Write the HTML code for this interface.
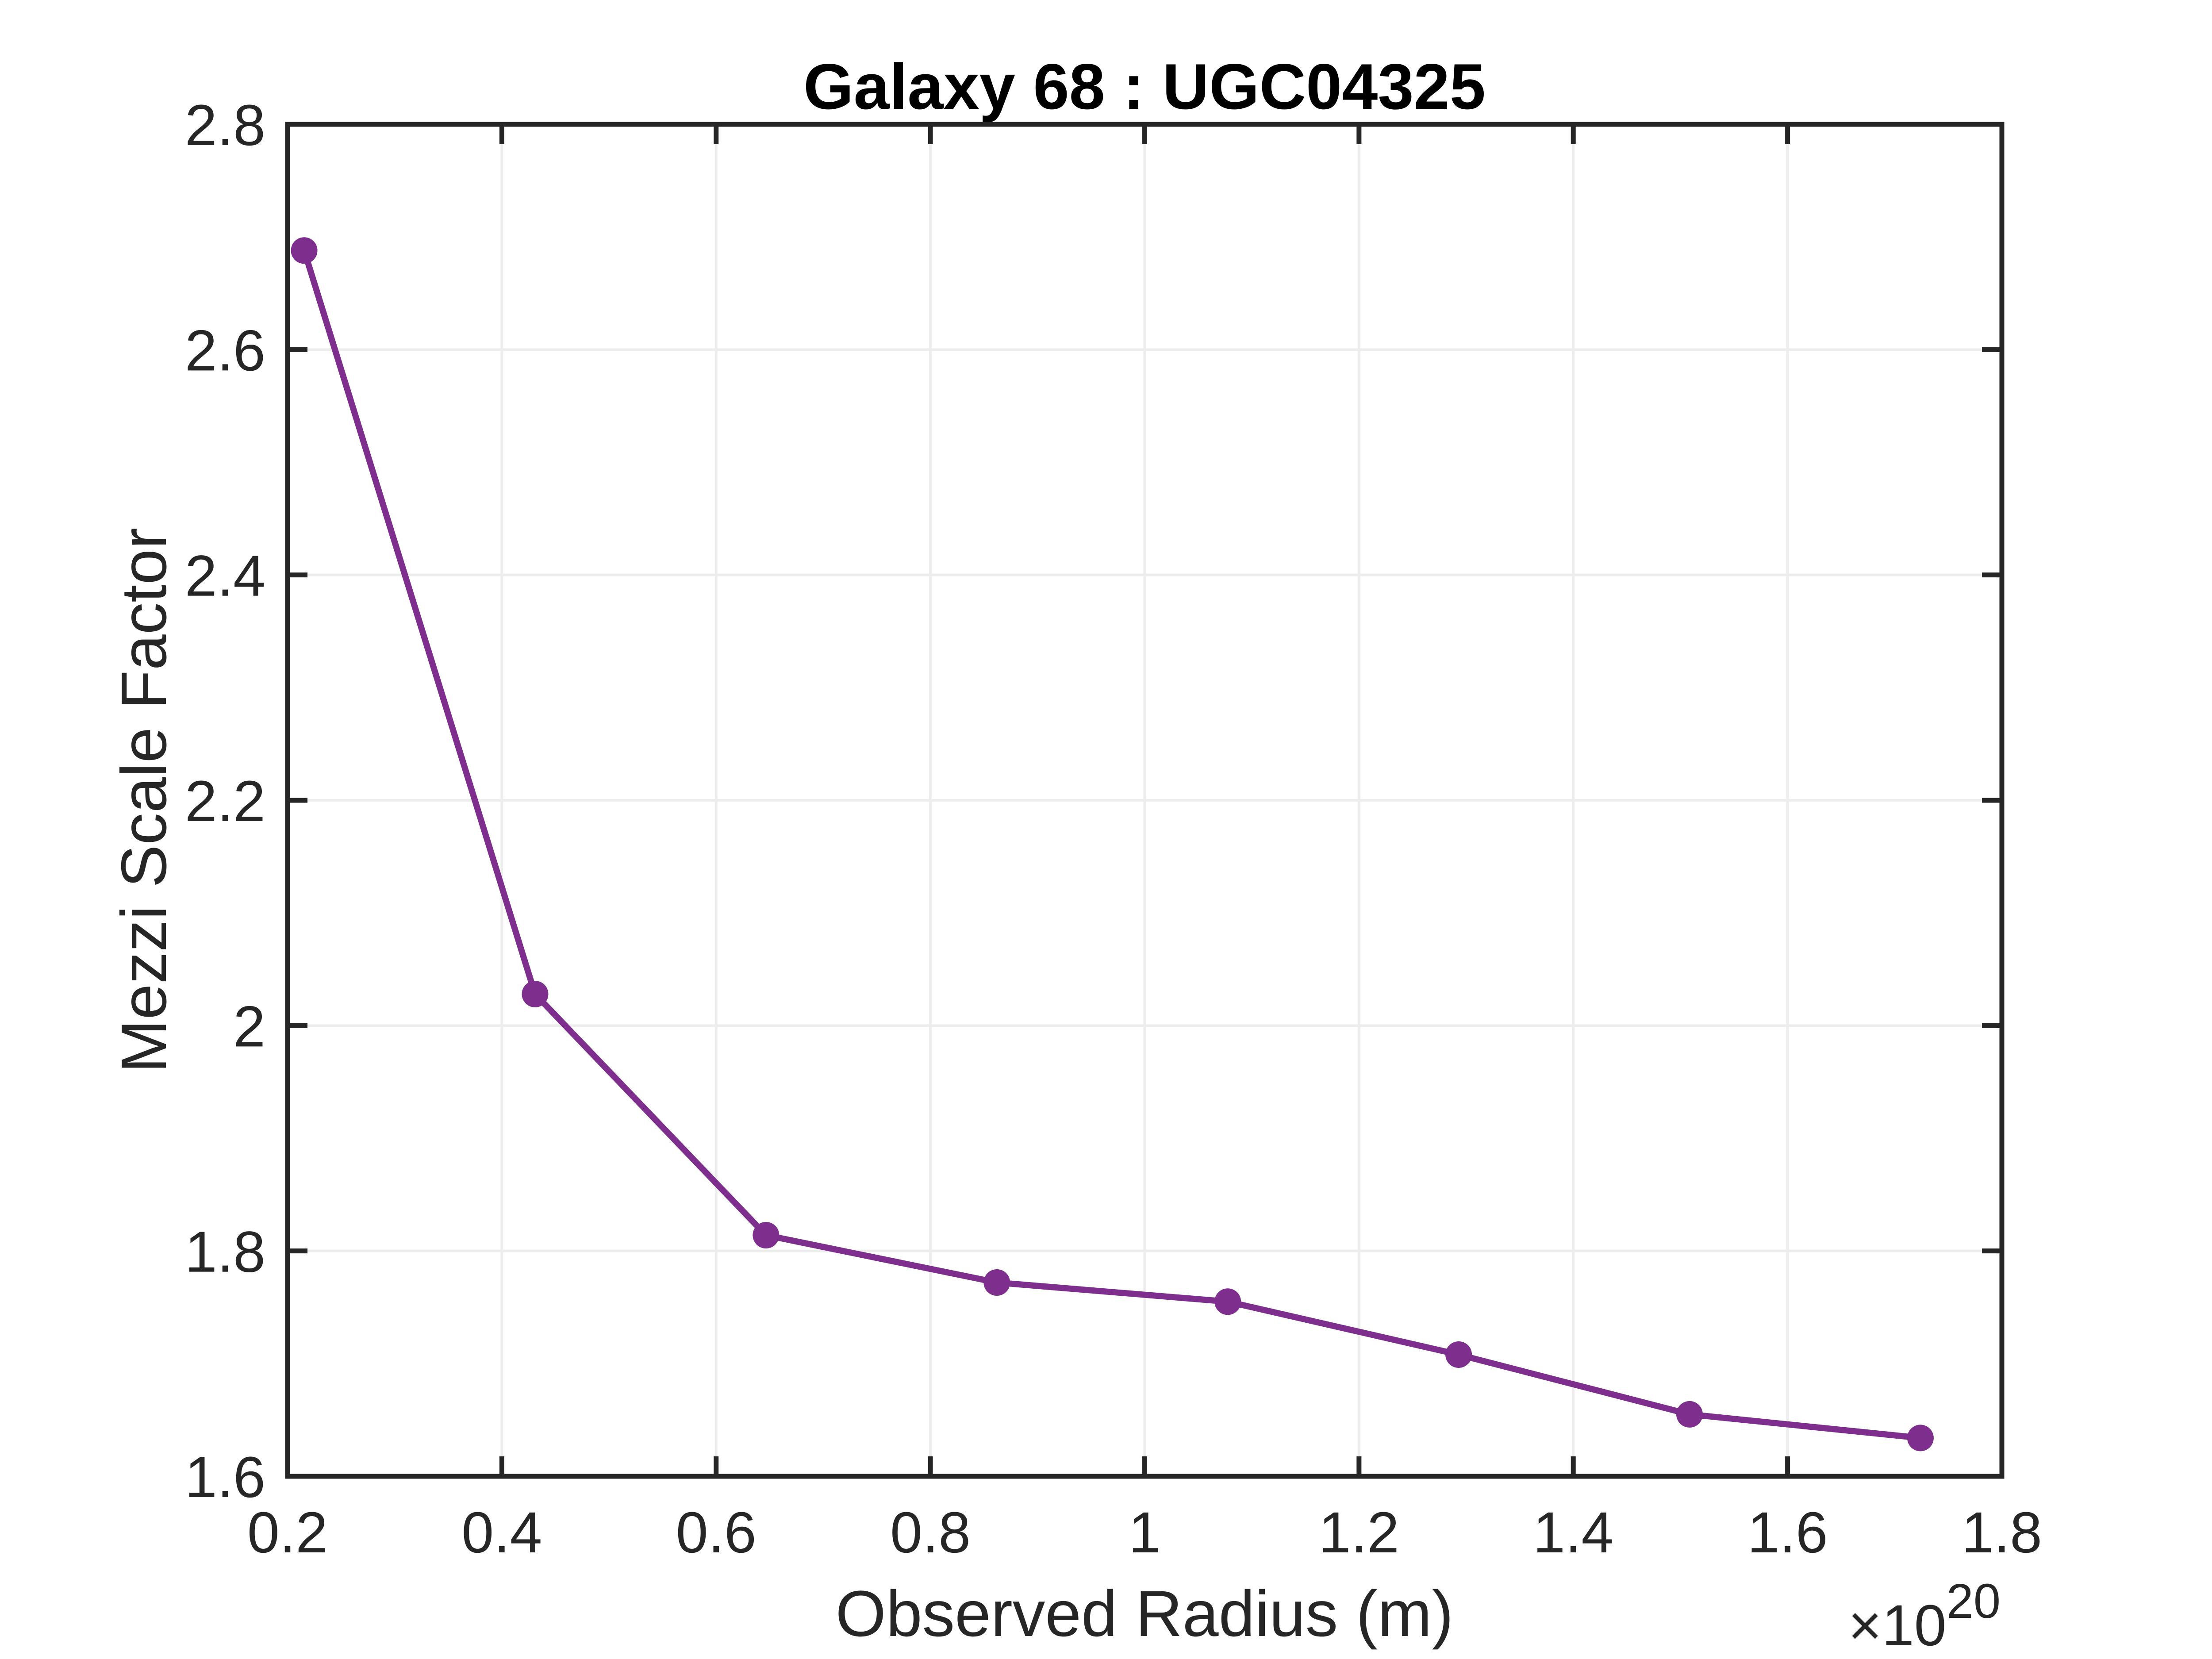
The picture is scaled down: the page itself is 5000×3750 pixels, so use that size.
<!DOCTYPE html>
<html><head><meta charset="utf-8"><style>html,body{margin:0;padding:0;background:#fff}svg{display:block}</style></head>
<body>
<svg id="chart" width="5000" height="3750" xmlns="http://www.w3.org/2000/svg" font-family="Liberation Sans, Arial, sans-serif">
<rect width="5000" height="3750" fill="#fff"/>
<g id="grid"></g>
<g id="series"></g>
<g id="axes"></g>
<text x="2587" y="246" text-anchor="middle" font-size="146" font-weight="bold" fill="#000">Galaxy 68 : UGC04325</text>
<text x="2587" y="3698" text-anchor="middle" font-size="147" fill="#262626">Observed Radius (m)</text>
<text transform="translate(375,1809) rotate(-90)" text-anchor="middle" font-size="145" fill="#262626">Mezzi Scale Factor</text>
<text x="4522" y="3719" text-anchor="end" font-size="131" fill="#262626">×10<tspan font-size="110" dy="-62">20</tspan></text>
</svg>
<script>
const xValues = [0.2155, 0.431, 0.6465, 0.862, 1.0775, 1.293, 1.5085, 1.724];
const yValues = [2.688, 2.028, 1.814, 1.772, 1.755, 1.708, 1.655, 1.634];
const xTicks = [0.2, 0.4, 0.6, 0.8, 1.0, 1.2, 1.4, 1.6, 1.8];
const xTickLabels = ["0.2","0.4","0.6","0.8","1","1.2","1.4","1.6","1.8"];
const yTicks = [1.6, 1.8, 2.0, 2.2, 2.4, 2.6, 2.8];
const yTickLabels = ["1.6","1.8","2","2.2","2.4","2.6","2.8"];

const L=650,R=4525,T=281,B=3337;
const xMin=0.2,xMax=1.8,yMin=1.6,yMax=2.8;
const sx=v=>L+(v-xMin)/(xMax-xMin)*(R-L);
const sy=v=>B-(v-yMin)/(yMax-yMin)*(B-T);
const NS="http://www.w3.org/2000/svg";
function mk(tag,attrs,parent){const e=document.createElementNS(NS,tag);for(const k in attrs)e.setAttribute(k,attrs[k]);parent.appendChild(e);return e;}
const grid=document.getElementById('grid'),axes=document.getElementById('axes'),series=document.getElementById('series');

xTicks.forEach((t,i)=>{
  const x=sx(t);
  if(i>0&&i<xTicks.length-1){
    const g=mk('line',{x1:x,x2:x,y1:T,y2:B,stroke:'#ededed','stroke-width':6},grid);
    
    
  }
  const tb=mk('line',{x1:x,x2:x,y1:B,y2:B-45,stroke:'#262626','stroke-width':11},axes);
  
  
  const tt=mk('line',{x1:x,x2:x,y1:T,y2:T+45,stroke:'#262626','stroke-width':11},axes);
  
  
  const lb=mk('text',{x:x,y:3509,'text-anchor':'middle','font-size':131,fill:'#262626'},axes);
  lb.textContent=xTickLabels[i];
  
  
});
yTicks.forEach((t,i)=>{
  const y=sy(t);
  if(i>0&&i<yTicks.length-1){
    const g=mk('line',{x1:L,x2:R,y1:y,y2:y,stroke:'#ededed','stroke-width':6},grid);
    
    
  }
  const tl=mk('line',{x1:L,x2:L+45,y1:y,y2:y,stroke:'#262626','stroke-width':11},axes);
  
  
  const tr=mk('line',{x1:R,x2:R-45,y1:y,y2:y,stroke:'#262626','stroke-width':11},axes);
  
  
  const lb=mk('text',{x:600,y:y+47,'text-anchor':'end','font-size':131,fill:'#262626'},axes);
  lb.textContent=yTickLabels[i];
  
  
});
const box=mk('rect',{x:L,y:T,width:R-L,height:B-T,fill:'none',stroke:'#262626','stroke-width':11},axes);



const pts=xValues.map((x,i)=>sx(x)+','+sy(yValues[i])).join(' ');
const line=mk('polyline',{points:pts,fill:'none',stroke:'#7E2F8E','stroke-width':14,'stroke-linejoin':'round'},series);


xValues.forEach((x,i)=>{
  const c=mk('circle',{cx:sx(x),cy:sy(yValues[i]),r:30,fill:'#7E2F8E'},series);
  
  
});
</script>
</body></html>
